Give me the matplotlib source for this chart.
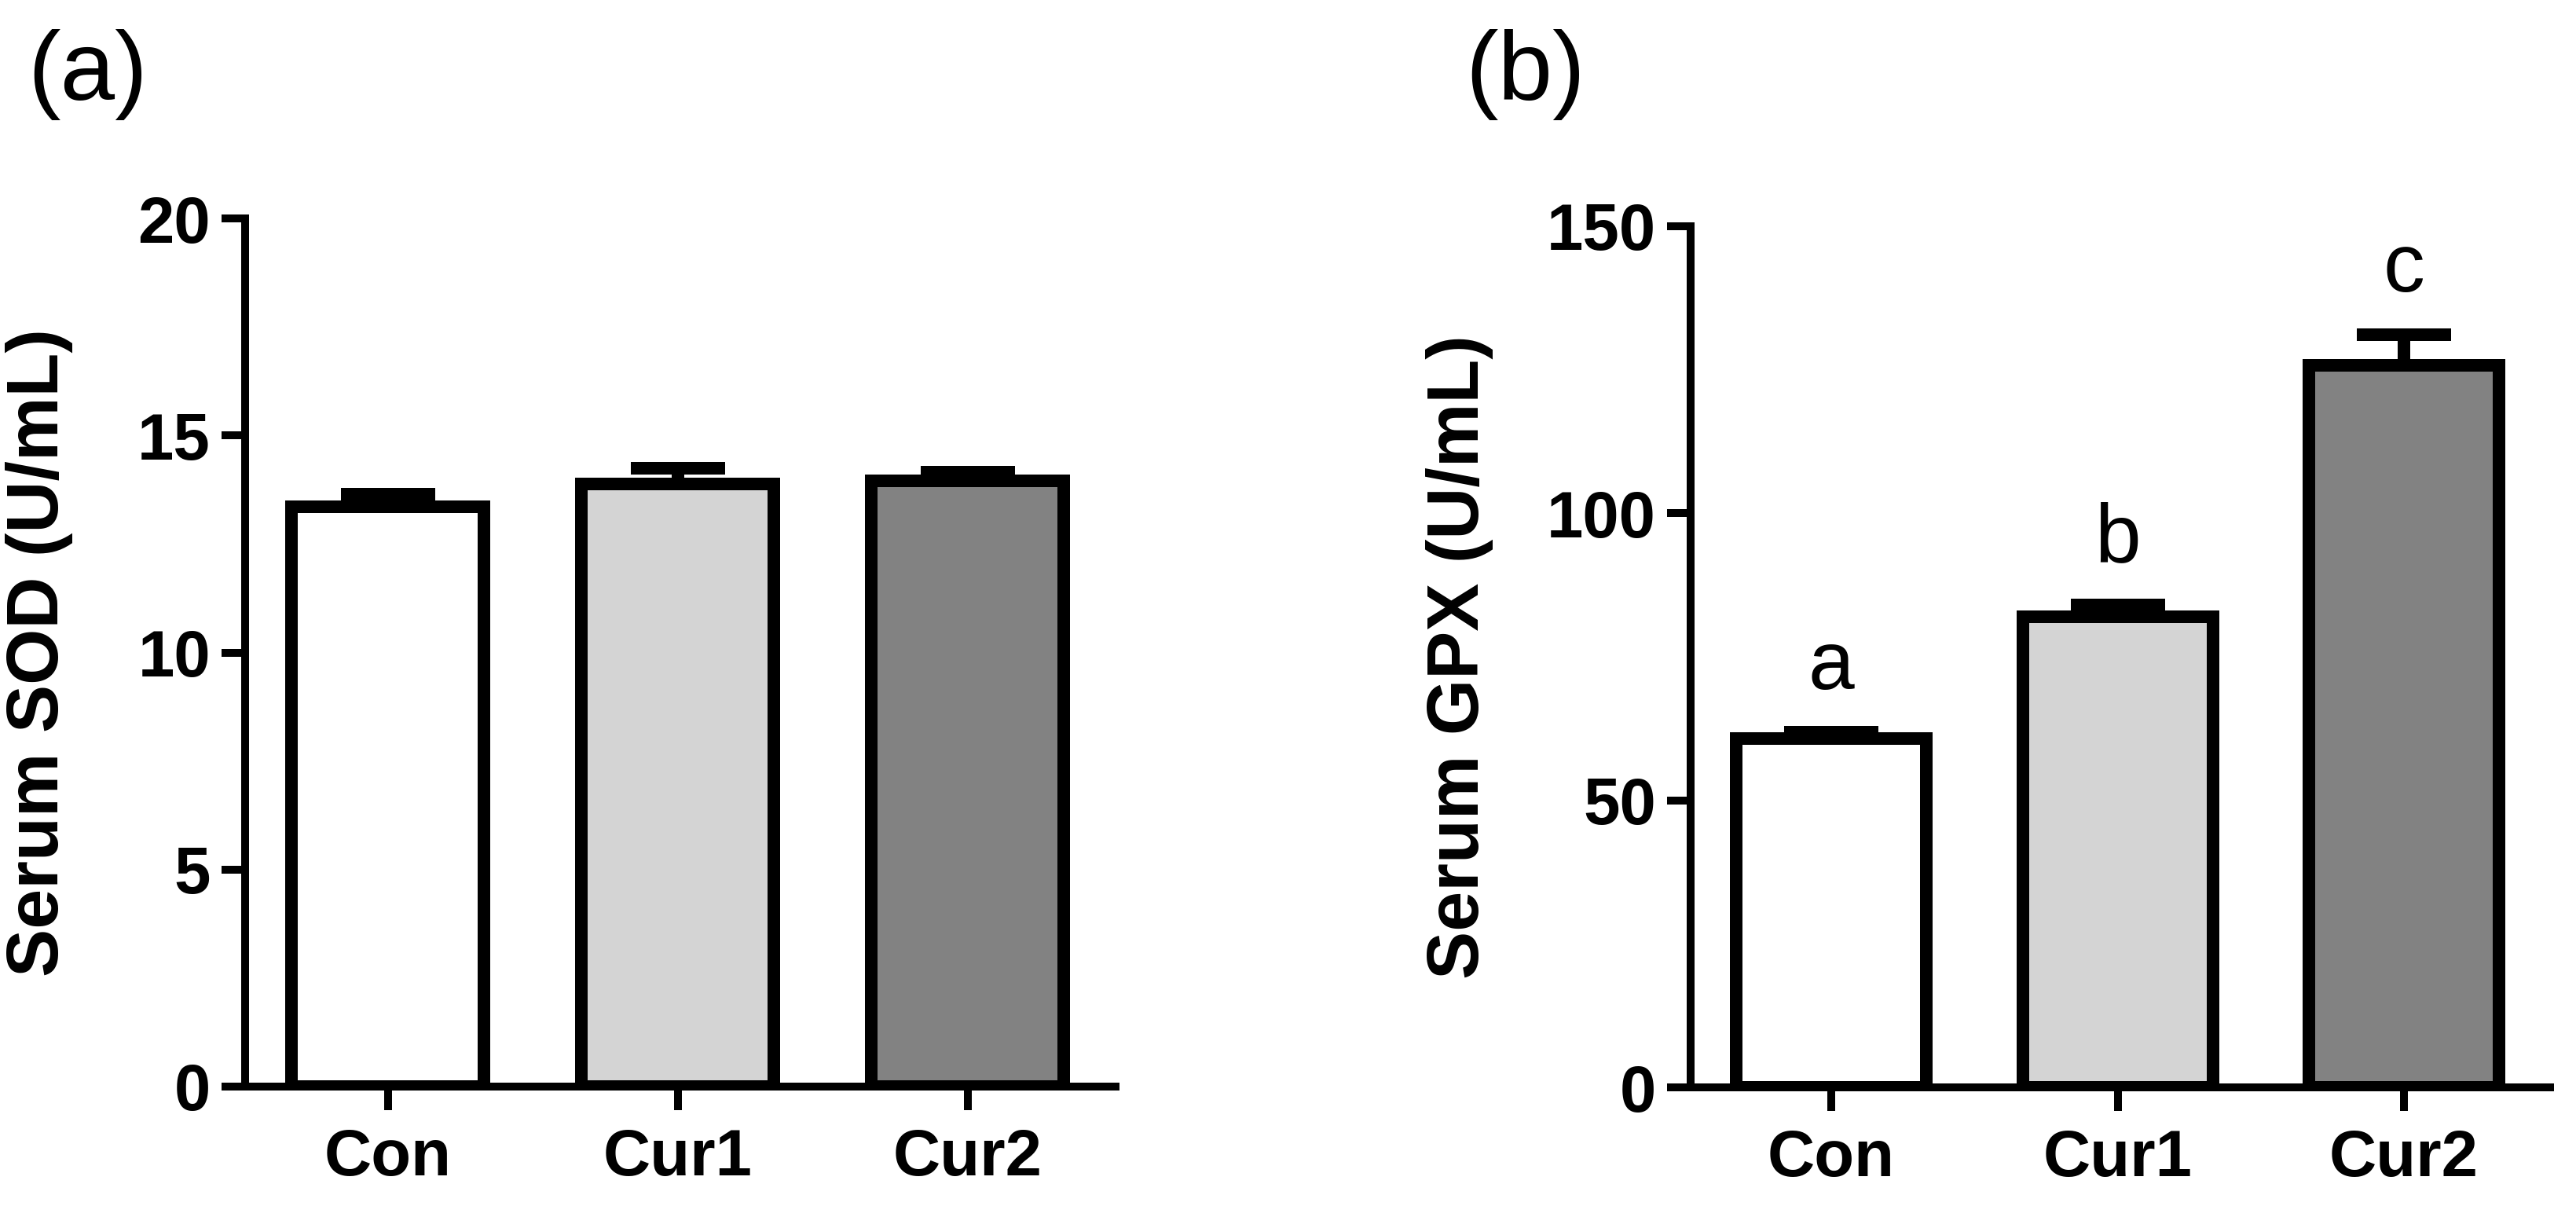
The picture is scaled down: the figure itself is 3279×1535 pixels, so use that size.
import numpy as np
import matplotlib
matplotlib.use("Agg")
import matplotlib.pyplot as plt

plt.rcParams['font.family'] = ['Liberation Sans', 'DejaVu Sans']

groups = ["Con", "Cur1", "Cur2"]

sod_mean = [13.35, 13.88, 13.95]
sod_sem = [0.29, 0.36, 0.21]

gpx_mean = [60.8, 82.0, 125.8]
gpx_sem = [1.1, 2.0, 5.3]
gpx_letters = ["a", "b", "c"]

fills = ["white", "#d4d4d4", "#828282"]

W, H = 3279, 1535
DPI = 100
PX = 72 / DPI   # points per pixel

fig = plt.figure(figsize=(W / DPI, H / DPI), dpi=DPI)


def make_axes(x0, x1, y_top, y_zero):
    # pixel box -> figure fraction
    return fig.add_axes([x0 / W, (H - y_zero) / H, (x1 - x0) / W, (y_zero - y_top) / H])


def draw_panel(ax, means, sems, ymax, step, ylabel, label_x, xlim):
    x = np.arange(len(groups))
    ax.bar(x, means, width=0.664, color=fills, edgecolor="black",
           linewidth=16 * PX, zorder=2)
    ax.errorbar(x, means, yerr=[np.zeros(len(means)), sems], fmt="none",
                ecolor="black", elinewidth=16 * PX, capsize=60 * PX,
                capthick=16 * PX, zorder=3)

    ax.set_xlim(*xlim)
    ax.set_ylim(0, ymax)
    ax.set_yticks(np.arange(0, ymax + step / 2, step))
    ax.set_xticks(x)
    ax.set_xticklabels(groups)

    for s in ["top", "right"]:
        ax.spines[s].set_visible(False)
    for s in ["left", "bottom"]:
        ax.spines[s].set_linewidth(10 * PX)
        ax.spines[s].set_capstyle("projecting")

    ax.tick_params(axis="both", length=30 * PX, width=10 * PX,
                   labelsize=60, pad=14 * PX)
    ax.tick_params(axis="x", pad=22 * PX)
    for t in ax.get_xticklabels() + ax.get_yticklabels():
        t.set_fontweight("bold")

    ax.set_ylabel(ylabel, fontsize=66, fontweight="bold")
    ax.yaxis.set_label_coords(label_x, 0.5)


# panel (a)
ax1 = make_axes(312, 1420, 278, 1383)
draw_panel(ax1, sod_mean, sod_sem, 20, 5, "Serum SOD (U/mL)",
           (93 - 312) / (1420 - 312), (-0.493, 2.51))

# panel (b)
ax2 = make_axes(2152, 3246, 288, 1384)
draw_panel(ax2, gpx_mean, gpx_sem, 150, 50, "Serum GPX (U/mL)",
           (1901 - 2152) / (3246 - 2152), (-0.491, 2.51))

for i, lab in enumerate(gpx_letters):
    ax2.text(i, gpx_mean[i] + gpx_sem[i] + 7.5, lab, ha="center",
             va="baseline", fontsize=76)

fig.text(35 / W, 1 - 95 / H, "(a)", fontsize=90, ha="left", va="center")
fig.text(1865 / W, 1 - 95 / H, "(b)", fontsize=90, ha="left", va="center")

fig.savefig("out.png", dpi=DPI, facecolor="white")
